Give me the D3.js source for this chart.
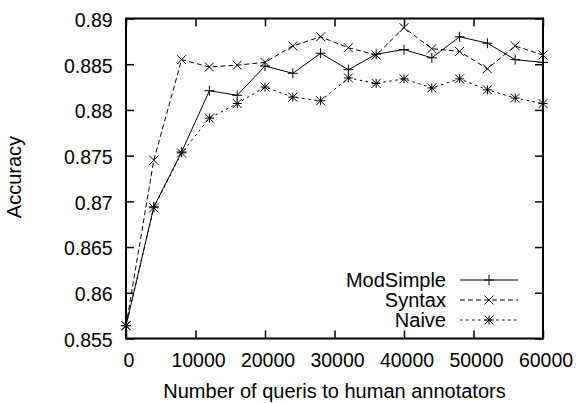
<!DOCTYPE html>
<html>
<head>
<meta charset="utf-8">
<script src="https://cdn.jsdelivr.net/npm/d3@7"></script>
<style>
  html, body { margin: 0; padding: 0; background: #fff; }
  svg { display: block; }
  text { font-family: "Liberation Sans", Arial, Helvetica, sans-serif; fill: #000; }
</style>
</head>
<body>
<svg id="chart" width="578" height="403"></svg>
<script>
// Number of queries sent to human annotators
const queries = [0, 4000, 8000, 12000, 16000, 20000, 24000, 28000, 32000,
                 36000, 40000, 44000, 48000, 52000, 56000, 60000];

// Accuracy per method
const modSimple = [0.8564, 0.8694, 0.8754, 0.8821, 0.8816, 0.8848, 0.8840, 0.8862, 0.8844,
                   0.8861, 0.8866, 0.8857, 0.8880, 0.8873, 0.8855, 0.8852];
const syntax    = [0.8564, 0.8745, 0.8855, 0.8847, 0.8849, 0.8852, 0.8870, 0.8880, 0.8868,
                   0.8860, 0.8890, 0.8867, 0.8864, 0.8845, 0.8870, 0.8860];
const naive     = [0.8564, 0.8693, 0.8753, 0.8791, 0.8807, 0.8825, 0.8814, 0.8810, 0.8835,
                   0.8829, 0.8834, 0.8824, 0.8834, 0.8822, 0.8813, 0.8807];

const xTicks = [0, 10000, 20000, 30000, 40000, 50000, 60000];
const yTicks = [0.855, 0.86, 0.865, 0.87, 0.875, 0.88, 0.885, 0.89];

const seriesNames = ["ModSimple", "Syntax", "Naive"];
const seriesData = [modSimple, syntax, naive];
const seriesDash = [null, "5,3", "2.5,3.5"];
const seriesMarker = ["plus", "cross", "star"];

const svg = d3.select("#chart");
const plotL = 126, plotR = 543, plotT = 18.5, plotB = 338.5;
const tickFont = 19.5, labelFont = 20;

const x = d3.scaleLinear().domain([0, 60000]).range([plotL, plotR]);
const y = d3.scaleLinear().domain([0.855, 0.89]).range([plotB, plotT]);

// Axes with inward ticks on all four sides
const tickLen = 8;
const gBottom = svg.append("g").attr("transform", `translate(0,${plotB})`)
  .call(d3.axisBottom(x).tickValues(xTicks).tickFormat(d3.format("d"))
        .tickSizeInner(-tickLen).tickSizeOuter(0).tickPadding(14.5));
const gTop = svg.append("g").attr("transform", `translate(0,${plotT})`)
  .call(d3.axisTop(x).tickValues(xTicks).tickFormat("")
        .tickSizeInner(-tickLen).tickSizeOuter(0));
const gLeft = svg.append("g").attr("transform", `translate(${plotL},0)`)
  .call(d3.axisLeft(y).tickValues(yTicks).tickFormat(d => String(+d.toFixed(3)))
        .tickSizeInner(-tickLen).tickSizeOuter(0).tickPadding(13.3));
const gRight = svg.append("g").attr("transform", `translate(${plotR},0)`)
  .call(d3.axisRight(y).tickValues(yTicks).tickFormat("")
        .tickSizeInner(-tickLen).tickSizeOuter(0));

[gBottom, gTop, gLeft, gRight].forEach(g => {
  g.select(".domain").remove();
  g.selectAll(".tick line").attr("stroke", "#000").attr("stroke-width", 1.5);
  g.selectAll(".tick text").attr("font-size", tickFont)
    .attr("font-family", '"Liberation Sans", Arial, sans-serif').attr("fill", "#000");
});
gBottom.selectAll(".tick text").attr("dx", 2.5);
gLeft.selectAll(".tick text").attr("dy", "0.4em");

// Plot frame
svg.append("rect")
  .attr("x", plotL).attr("y", plotT)
  .attr("width", plotR - plotL).attr("height", plotB - plotT)
  .attr("fill", "none").attr("stroke", "#000").attr("stroke-width", 2);

// Axis titles
svg.append("text")
  .attr("x", 334.5).attr("y", 397.5)
  .attr("text-anchor", "middle").attr("font-size", labelFont)
  .text("Number of queris to human annotators");
svg.append("text")
  .attr("transform", `translate(21,177) rotate(-90)`)
  .attr("text-anchor", "middle").attr("font-size", labelFont)
  .text("Accuracy");

// Marker path generators (centered at 0,0)
function markerPath(kind, s) {
  const p = d3.path();
  if (kind === "plus" || kind === "star") {
    p.moveTo(-s, 0); p.lineTo(s, 0);
    p.moveTo(0, -s); p.lineTo(0, s);
  }
  if (kind === "cross" || kind === "star") {
    p.moveTo(-s, -s); p.lineTo(s, s);
    p.moveTo(-s, s); p.lineTo(s, -s);
  }
  return p.toString();
}

const line = d3.line().x((d, i) => x(queries[i])).y(d => y(d));

seriesData.forEach((vals, k) => {
  const g = svg.append("g");
  g.append("path")
    .datum(vals)
    .attr("d", line)
    .attr("fill", "none").attr("stroke", "#000").attr("stroke-width", 1)
    .attr("stroke-dasharray", seriesDash[k]);
  g.selectAll("path.m")
    .data(vals).enter().append("path")
    .attr("class", "m")
    .attr("transform", (d, i) => `translate(${x(queries[i])},${y(d)})`)
    .attr("d", markerPath(seriesMarker[k], seriesMarker[k] === "plus" ? 5 : 4.5))
    .attr("fill", "none").attr("stroke", "#000").attr("stroke-width", 1);
});

// Legend
const legX = 446, legLine0 = 460, legLine1 = 518, legY0 = 280, legStep = 20;
seriesNames.forEach((name, k) => {
  const cy = legY0 + k * legStep;
  svg.append("text")
    .attr("x", legX).attr("y", cy).attr("dy", "0.36em")
    .attr("text-anchor", "end").attr("font-size", labelFont)
    .text(name);
  svg.append("line")
    .attr("x1", legLine0).attr("x2", legLine1).attr("y1", cy).attr("y2", cy)
    .attr("stroke", "#000").attr("stroke-width", 1)
    .attr("stroke-dasharray", seriesDash[k]);
  svg.append("path")
    .attr("transform", `translate(${(legLine0 + legLine1) / 2},${cy})`)
    .attr("d", markerPath(seriesMarker[k], seriesMarker[k] === "plus" ? 5 : 4.5))
    .attr("fill", "none").attr("stroke", "#000").attr("stroke-width", 1);
});
</script>
</body>
</html>
